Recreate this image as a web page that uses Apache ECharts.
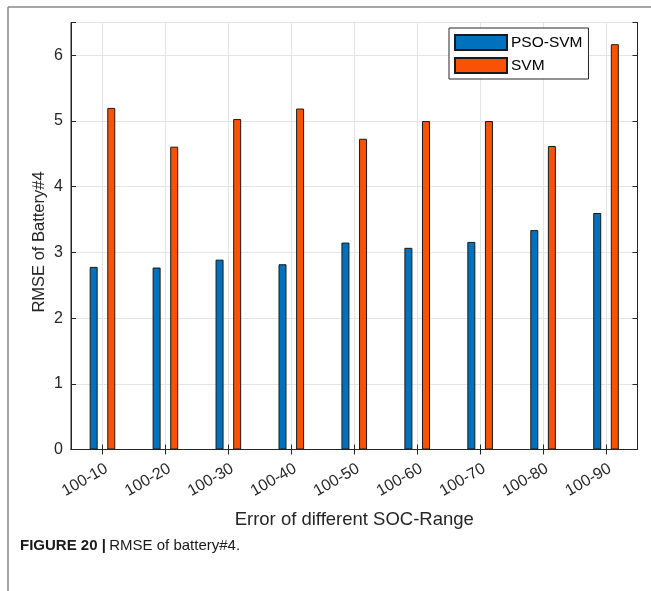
<!DOCTYPE html>
<html>
<head>
<meta charset="utf-8">
<script src="https://cdn.jsdelivr.net/npm/echarts@6/dist/echarts.min.js"></script>
<style>
  html, body { margin: 0; padding: 0; background: #fff; }
  #chart { width: 651px; height: 591px; }
</style>
</head>
<body>
<div id="chart"></div>
<script>
// SOC ranges on the x axis
const categories = ['100-10', '100-20', '100-30', '100-40', '100-50', '100-60', '100-70', '100-80', '100-90'];
// RMSE values per method
const psoSvm = [2.78, 2.77, 2.89, 2.82, 3.15, 3.07, 3.16, 3.34, 3.60];
const svm = [5.20, 4.61, 5.03, 5.19, 4.73, 5.00, 5.00, 4.62, 6.17];
const seriesNames = ['PSO-SVM', 'SVM'];
const yTicks = [0, 1, 2, 3, 4, 5, 6];

const FONT = '"Liberation Sans", Arial, Helvetica, sans-serif';
const chart = echarts.init(document.getElementById('chart'), null, { renderer: 'canvas' });

const grid = { left: 71, right: 13.5, top: 22.5, bottom: 141.5 };

chart.setOption({
  animation: false,
  backgroundColor: '#fff',
  grid: Object.assign({ show: true, borderColor: '#262626', borderWidth: 1, containLabel: false }, grid),
  legend: {
    data: seriesNames,
    orient: 'vertical',
    left: 449,
    top: 28,
    padding: [6, 6, 5, 5],
    itemWidth: 52,
    itemHeight: 15,
    itemGap: 6,
    backgroundColor: '#fff',
    borderColor: '#262626',
    borderWidth: 1,
    borderRadius: 0,
    textStyle: { fontFamily: FONT, fontSize: 15.5, color: '#000', padding: [0, 0, 0, -1] },
    icon: 'rect'
  },
  xAxis: [{
    type: 'category',
    data: categories,
    name: 'Error of different SOC-Range',
    nameLocation: 'middle',
    nameGap: 61,
    nameMoveOverlap: false,
    nameTextStyle: { fontFamily: FONT, fontSize: 18.5, color: '#262626' },
    axisLine: { show: true, lineStyle: { color: '#262626', width: 1 } },
    axisTick: { show: true, inside: true, alignWithLabel: true, length: 5, lineStyle: { color: '#262626' } },
    axisLabel: { rotate: 30, margin: 11, verticalAlign: 'top', align: 'right', fontFamily: FONT, fontSize: 16, color: '#262626' },
    splitLine: { show: true, alignWithLabel: true, lineStyle: { color: '#e5e5e5', width: 1 } }
  }, {
    type: 'category',
    data: categories,
    position: 'top',
    axisLine: { show: true, lineStyle: { color: '#262626' } },
    axisTick: { show: true, inside: true, alignWithLabel: true, length: 5, lineStyle: { color: '#262626' } },
    axisLabel: { show: false },
    splitLine: { show: false }
  }],
  yAxis: [{
    type: 'value',
    min: 0,
    max: 6.5,
    interval: 1,
    name: 'RMSE of Battery#4',
    nameLocation: 'middle',
    nameGap: 23,
    nameMoveOverlap: false,
    nameTextStyle: { fontFamily: FONT, fontSize: 16.5, color: '#262626', padding: [0, 12, 0, 0] },
    axisLine: { show: true, lineStyle: { color: '#262626' } },
    axisTick: { show: true, inside: true, length: 5, lineStyle: { color: '#262626' } },
    axisLabel: {
      margin: 8, fontFamily: FONT, fontSize: 16, color: '#262626',
      formatter: v => (yTicks.indexOf(v) >= 0 ? String(v) : '')
    },
    splitLine: { show: true, lineStyle: { color: '#e5e5e5', width: 1 } }
  }, {
    type: 'value',
    min: 0,
    max: 6.5,
    interval: 1,
    position: 'right',
    axisLine: { show: true, lineStyle: { color: '#262626' } },
    axisTick: { show: true, inside: true, length: 5, lineStyle: { color: '#262626' } },
    axisLabel: { show: false },
    splitLine: { show: false }
  }],
  series: [{
    name: seriesNames[0],
    type: 'bar',
    data: psoSvm,
    barWidth: 8,
    barGap: '120%',
    itemStyle: { color: '#0072BD', borderColor: '#1a1a1a', borderWidth: 1 }
  }, {
    name: seriesNames[1],
    type: 'bar',
    data: svm,
    barWidth: 8,
    barGap: '120%',
    itemStyle: { color: '#FA5205', borderColor: '#1a1a1a', borderWidth: 1 }
  }],
  graphic: [
    // page frame around the figure
    { type: 'line', shape: { x1: 8, y1: 7, x2: 651, y2: 7 }, style: { stroke: '#8a8a8a', lineWidth: 1.5 } },
    { type: 'line', shape: { x1: 8, y1: 7, x2: 8, y2: 591 }, style: { stroke: '#8a8a8a', lineWidth: 1.5 } },
    {
      type: 'text',
      left: 20,
      top: 538,
      style: {
        text: '{b|FIGURE 20 |} {r|RMSE of battery#4.}',
        rich: {
          b: { fontFamily: FONT, fontSize: 15, fontWeight: 'bold', fill: '#1a1a1a' },
          r: { fontFamily: FONT, fontSize: 15, fill: '#1a1a1a' }
        }
      }
    }
  ]
});
</script>
</body>
</html>
